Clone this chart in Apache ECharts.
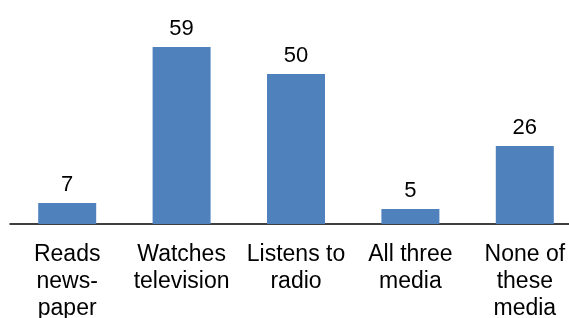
<!DOCTYPE html>
<html>
	<head>
		<meta charset="utf-8"/>
		<title>Media use</title>
		<script src="https://cdn.jsdelivr.net/npm/echarts@6/dist/echarts.min.js"></script>
		<style>
			html, body { margin: 0; padding: 0; background: #fff; overflow: hidden; }
			#div_charts { width: 582px; height: 318px; }
		</style>
	</head>
	<body>
		<div id="div_charts"></div>
		<script>
		// data
		var categories = ['Reads\nnews-\npaper', 'Watches\ntelevision', 'Listens to\nradio', 'All three\nmedia', 'None of\nthese\nmedia'];
		var values = [7, 59, 50, 5, 26];

		// chart is a bit wider than the window: last category runs off the right edge like the original
		var myChart = echarts.init(document.getElementById('div_charts'));

		var option = {
			animation: false,
			backgroundColor: '#ffffff',
			grid: {
				left: 10,
				right: 0,
				top: 14,
				bottom: 94,
				outerBoundsMode: 'none'
			},
			xAxis: {
				type: 'category',
				data: categories,
				axisLine: { lineStyle: { color: '#000', width: 1.5 } },
				axisTick: { show: false },
				axisLabel: {
					color: '#000',
					fontFamily: 'Liberation Sans, Arial',
					fontSize: 23,
					lineHeight: 27,
					margin: 17,
					interval: 0
				}
			},
			yAxis: {
				type: 'value',
				min: 0,
				max: 70,
				show: false,
				splitLine: { show: false }
			},
			series: [{
				type: 'bar',
				data: values,
				barWidth: 58,
				itemStyle: { color: '#4F81BD' },
				label: {
					show: true,
					position: 'top',
					distance: 7,
					color: '#000',
					fontFamily: 'Liberation Sans, Arial',
					fontSize: 22
				}
			}]
		};

		myChart.setOption(option);
		</script>
	</body>
</html>
